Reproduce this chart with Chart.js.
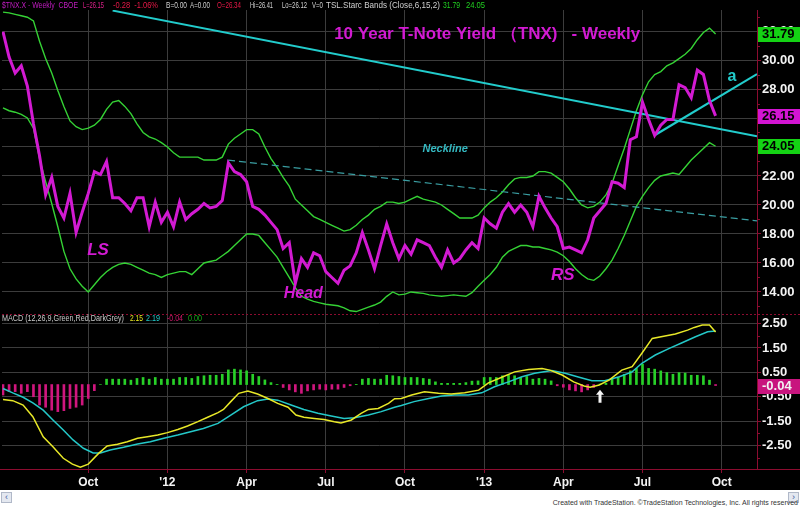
<!DOCTYPE html>
<html>
<head>
<meta charset="utf-8">
<title>10 Year T-Note Yield (TNX) - Weekly</title>
<script src="https://cdn.jsdelivr.net/npm/chart.js@4.4.1/dist/chart.umd.min.js"></script>
<style>
  html, body { margin:0; padding:0; background:#fff; }
  #box { width:800px; height:490px; background:#000; }
  #foot { position:relative; width:800px; height:21px; background:#fff; font-family:Arial, "Liberation Sans", sans-serif; }
  .arr { position:absolute; top:2px; width:9px; height:9px; font-size:9px; line-height:9px; text-align:center; color:#4060a0; background:#e4e8f0; border:1px solid #b0b8c8; }
  #credit { position:absolute; right:2px; top:9px; font-size:7px; color:#333; white-space:nowrap; }
</style>
</head>
<body>
<div id="box"><canvas id="chart" width="800" height="490"></canvas></div>
<div id="foot">
  <span class="arr" style="left:1px">&#8249;</span>
  <span class="arr" style="right:1px">&#8250;</span>
  <span id="credit">Created with TradeStation. ©TradeStation Technologies, Inc. All rights reserved</span>
</div>
<script>
/* DATA - weekly closes, week 0 = first bar of Jul 2011 */
const priceYield = [
  31.95, 30.2, 29.1, 29.6, 28.2, 25.6, 23.4, 20.7, 21.9, 19.9,
  19.1, 20.8, 18.1, 19.5, 20.8, 22.3, 22.1, 23.0, 20.5, 20.5,
  20.1, 19.6, 20.5, 20.5, 18.5, 20.2, 18.8, 19.5, 18.5, 20.2,
  19.0, 19.4, 19.7, 20.1, 19.8, 19.9, 20.3, 22.9, 22.3, 22.1,
  21.6, 19.9, 19.7, 19.3, 18.8, 18.3, 17.0, 17.4, 14.6, 16.3,
  15.7, 16.7, 16.5, 15.4, 15.0, 14.6, 15.5, 15.8, 16.7, 18.1,
  16.9, 15.6, 17.2, 18.7, 17.4, 16.3, 17.2, 16.6, 17.6, 17.4,
  17.2, 16.4, 15.7, 16.9, 16.0, 16.3, 16.9, 17.4, 17.0, 19.1,
  18.7, 18.4, 19.5, 20.1, 19.5, 20.0, 19.5, 18.5, 20.6, 19.8,
  19.1, 18.5, 17.0, 17.1, 16.9, 16.7, 17.6, 19.1, 19.6, 20.1,
  21.6, 21.5, 21.2, 24.5, 24.7, 27.1, 25.9, 24.8, 25.5, 25.9,
  25.9, 28.3, 28.1, 27.4, 29.3, 29.0, 27.2, 26.15
];

const upperBand = [
  33.3, 33.25, 33.15, 33.05, 32.95, 32.7, 31.3, 30.1, 29.1, 27.9,
  26.8, 25.8, 25.4, 25.2, 25.3, 25.5, 25.9, 26.6, 27.1, 27.2,
  26.8, 26.3, 25.6, 25.0, 24.7, 24.55, 24.3, 24.0, 23.6, 23.3,
  23.3, 23.3, 23.3, 23.1, 23.1, 23.1, 23.3, 24.2, 24.6, 24.9,
  25.2, 25.2, 24.9, 24.0, 23.2, 22.6, 21.9, 21.3, 20.4, 20.0,
  19.6, 19.2, 19.0, 18.8, 18.6, 18.4, 18.2, 18.3, 18.6, 19.0,
  19.3, 19.7, 19.9, 20.2, 20.2, 20.1, 20.2, 20.4, 20.6, 20.4,
  20.3, 20.2, 20.0, 19.7, 19.4, 19.1, 19.1, 19.1, 19.3, 19.8,
  20.2, 20.5, 20.9, 21.4, 21.8, 21.9, 21.9, 22.0, 22.3, 22.3,
  22.2, 21.9, 21.6, 21.1, 20.5, 20.0, 19.8, 19.9, 20.2, 20.7,
  21.5, 22.7, 23.9, 25.2, 26.5, 27.6, 28.5, 29.0, 29.2, 29.6,
  29.8, 30.1, 30.4, 30.8, 31.4, 31.9, 32.2, 31.79
];

const lowerBand = [
  26.7, 26.5, 26.4, 26.25, 26.0, 25.3, 23.2, 21.6, 20.1, 18.5,
  16.8, 15.6, 14.9, 14.4, 14.0, 14.5, 15.0, 15.4, 15.7, 15.9,
  16.0, 15.9, 15.7, 15.5, 15.3, 15.2, 15.0, 15.2, 15.3, 15.4,
  15.4, 15.2, 15.6, 16.0, 16.1, 16.2, 16.5, 16.8, 17.2, 17.6,
  18.0, 18.0, 17.9, 17.4, 16.9, 16.4, 15.7, 15.0, 14.3, 13.7,
  13.5, 13.35, 13.25, 13.15, 13.1, 13.05, 12.9, 12.7, 12.65, 12.8,
  12.95, 13.1, 13.3, 13.7, 14.0, 13.8, 13.85, 14.0, 13.95, 13.9,
  13.8, 13.75, 13.7, 13.75, 13.8, 13.75, 13.7, 13.95, 14.4, 14.8,
  15.2, 15.7, 16.4, 16.8, 17.0, 17.2, 17.2, 17.1, 17.1, 17.0,
  16.9, 16.75, 16.5, 16.1, 15.6, 15.2, 14.9, 14.8, 15.1, 15.6,
  16.2, 17.0, 17.9, 18.9, 19.9, 20.6, 21.2, 21.7, 22.0, 22.1,
  22.2, 22.1, 22.6, 23.1, 23.5, 23.9, 24.3, 24.05
];

/* MACD (12,26,9) */
const macdWeeks = [0, 1.6, 3.3, 4.9, 6.6, 8.2, 9.9, 11.4, 12.7, 14.0, 15.7, 17.1, 18.8, 20.4, 22.1,
  23.7, 25.4, 27.0, 28.7, 30.3, 32.0, 33.6, 35.3, 36.2, 37.4, 38.7, 40.2, 41.8, 43.5, 45.1,
  46.8, 48.1, 49.4, 51.1, 52.7, 54.4, 55.5, 57.2, 58.8, 60.0, 61.6, 63.3, 64.3, 65.4, 67.1,
  69.2, 71.5, 73.6, 75.8, 78.1, 79.7, 81.9, 84.0, 86.3, 88.5, 89.8, 91.8, 93.7, 95.4, 96.4,
  97.9, 99.5, 101.6, 103.3, 104.9, 106.6, 108.7, 110.4, 112.4, 113.5, 114.8, 116.0, 117];
const macdLine = [-0.61, -0.66, -0.84, -1.32, -2.14, -2.55, -3.02, -3.26, -3.39, -3.26, -2.82, -2.52, -2.45, -2.34, -2.20,
  -2.14, -2.07, -1.97, -1.84, -1.70, -1.52, -1.34, -1.15, -1.02, -0.70, -0.36, -0.27, -0.39, -0.57, -0.77,
  -0.93, -1.25, -1.34, -1.39, -1.43, -1.52, -1.57, -1.45, -1.18, -1.02, -0.98, -0.77, -0.58, -0.57, -0.43,
  -0.30, -0.36, -0.39, -0.34, -0.23, 0.07, 0.30, 0.52, 0.62, 0.66, 0.59, 0.39, 0.11, -0.06, -0.11,
  -0.02, 0.18, 0.59, 0.73, 1.28, 1.89, 1.99, 2.07, 2.23, 2.34, 2.44, 2.44, 2.15];

const signalWeeks = [0, 1.6, 3.3, 4.9, 6.6, 8.2, 9.9, 11.5, 13.2, 14.8, 16.0, 17.6, 19.8, 22.1, 24.2,
  26.4, 28.7, 30.8, 32.9, 35.3, 37.4, 39.5, 41.8, 43.5, 45.1, 47.3, 49.4, 51.7, 53.9, 56.0,
  57.7, 60.0, 62.1, 64.3, 65.4, 67.5, 69.9, 72.0, 74.1, 76.4, 78.6, 80.7, 83.0, 85.2, 87.3,
  90.1, 92.3, 94.6, 96.7, 98.8, 101.2, 103.3, 104.9, 107.1, 109.4, 111.5, 113.7, 115.7, 117];
const signalLine = [-0.16, -0.34, -0.52, -0.75, -1.05, -1.45, -1.86, -2.27, -2.61, -2.80, -2.80, -2.68, -2.57, -2.44, -2.34,
  -2.20, -2.07, -1.93, -1.80, -1.59, -1.25, -0.91, -0.66, -0.59, -0.64, -0.84, -1.02, -1.18, -1.29, -1.39,
  -1.36, -1.25, -1.11, -0.93, -0.86, -0.70, -0.57, -0.47, -0.43, -0.43, -0.34, -0.09, 0.11, 0.32, 0.46,
  0.57, 0.46, 0.30, 0.16, 0.16, 0.32, 0.52, 0.87, 1.21, 1.48, 1.71, 1.96, 2.16, 2.19];

const histogram = [
  -0.43, -0.29, -0.29, -0.36, -0.29, -0.50, -0.84, -0.93, -1.05, -1.11,
  -1.07, -0.98, -0.93, -0.84, -0.57, -0.25, 0.00, 0.22, 0.22, 0.22,
  0.22, 0.18, 0.25, 0.29, 0.22, 0.29, 0.22, 0.22, 0.22, 0.29,
  0.29, 0.25, 0.33, 0.36, 0.38, 0.38, 0.42, 0.60, 0.63, 0.60,
  0.56, 0.42, 0.33, 0.19, 0.08, 0.01, -0.12, -0.22, -0.30, -0.36,
  -0.26, -0.22, -0.19, -0.22, -0.19, -0.19, -0.12, -0.05, 0.01, 0.22,
  0.25, 0.22, 0.22, 0.38, 0.36, 0.33, 0.29, 0.29, 0.29, 0.25,
  0.22, 0.11, 0.05, 0.05, 0.05, 0.05, 0.08, 0.14, 0.15, 0.29,
  0.29, 0.29, 0.36, 0.38, 0.36, 0.29, 0.33, 0.22, 0.25, 0.22,
  0.15, -0.05, -0.11, -0.22, -0.26, -0.30, -0.22, -0.12, 0.02, 0.05,
  0.22, 0.29, 0.42, 0.56, 0.66, 0.83, 0.66, 0.63, 0.56, 0.49,
  0.42, 0.49, 0.47, 0.38, 0.38, 0.36, 0.18, -0.04
];

/* hand drawn lines (week, yield) */
const resistWeeks = [18, 123.8];
const resistLine = [33.41, 24.74];
const neckWeeks = [36.95, 123.8];
const neckLine = [23.1, 18.9];
const aWeeks = [107.06, 123.8];
const aLine = [24.83, 29.03];

const xTickWeeks = [14, 27, 40, 53, 66, 79, 92, 105, 118];
const xTickLabels = ["Oct", "'12", "Apr", "Jul", "Oct", "'13", "Apr", "Jul", "Oct"];
const priceTicks = [14, 16, 18, 20, 22, 24, 26, 28, 30, 32];
const macdTicks = [2.5, 1.5, 0.5, -0.5, -1.5, -2.5];

const lastUpper = 31.79, lastClose = 26.15, lastLower = 24.05, lastHist = -0.04;

/* COLORS */
const MAGENTA = "#d21ad2";
const GREEN = "#35d235";
const CYAN = "#22cccc";
const AXIS_RED = "#8c0c30";
const GRID = "#3c3c3c";
const FONT = 'Arial, "Liberation Sans", sans-serif';

const pts = (xs, ys) => ys.map((y, k) => ({ x: xs[k], y: y }));
const weeks = priceYield.map((_, i) => i);

Chart.defaults.font.family = FONT;

/* DECORATION: header, title, notes, value flags */
const decor = {
  id: "decor",
  beforeDraw(chart) {
    const c = chart.ctx;
    c.save();
    c.fillStyle = "#000";
    c.fillRect(0, 0, chart.width, chart.height);
    c.restore();
  },
  afterDraw(chart) {
    const c = chart.ctx, x = chart.scales.x, yP = chart.scales.yP, yM = chart.scales.yM;
    const area = chart.chartArea;
    c.save();

    function txt(s, px, py, color, font, maxW, align) {
      c.font = font;
      c.fillStyle = color;
      c.textAlign = align || "left";
      c.textBaseline = "middle";
      if (maxW) c.fillText(s, px, py, maxW); else c.fillText(s, px, py);
    }

    // minor ticks on right axis
    c.strokeStyle = AXIS_RED;
    c.lineWidth = 1;
    for (let v = 13; v <= 33; v += 2) {
      const py = Math.round(yP.getPixelForValue(v)) + 0.5;
      c.beginPath(); c.moveTo(area.right, py); c.lineTo(area.right + 3, py); c.stroke();
    }
    for (let v = -3; v <= 2; v++) {
      const py = Math.round(yM.getPixelForValue(v)) + 0.5;
      c.beginPath(); c.moveTo(area.right, py); c.lineTo(area.right + 3, py); c.stroke();
    }

    // panel separator and bottom rule
    const sep = Math.round(yP.bottom) + 0.5;
    c.setLineDash([2, 2]);
    c.beginPath(); c.moveTo(area.left, sep); c.lineTo(chart.width, sep); c.stroke();
    c.setLineDash([]);
    const bot = Math.round(area.bottom) + 0.5;
    c.beginPath(); c.moveTo(0, bot); c.lineTo(chart.width, bot); c.stroke();

    // header line
    const hf = "9px " + FONT, hy = 6;
    txt("$TNX.X - Weekly  CBOE", 2, hy, "#c21cc2", hf, 76);
    txt("L=26.15", 83, hy, "#e0208c", hf, 21);
    txt("-0.28  -1.06%", 113, hy, "#e81848", hf, 45);
    txt("B=0.00", 166, hy, "#d0d0d0", hf, 21);
    txt("A=0.00", 190, hy, "#d0d0d0", hf, 20);
    txt("O=26.34", 217, hy, "#e81848", hf, 24);
    txt("Hi=26.41", 250, hy, "#d0d0d0", hf, 23);
    txt("Lo=26.12", 282, hy, "#d0d0d0", hf, 25);
    txt("V=0", 312, hy, "#d0d0d0", hf, 11);
    txt("TSL.Starc Bands (Close,6,15,2)", 326, hy, "#d0d0d0", hf, 114);
    txt("31.79", 443, hy, "#20d020", hf, 17);
    txt("24.05", 466, hy, "#20d020", hf, 19);

    // MACD header
    const my = Math.round(yM.top) + 5;
    txt("MACD (12,26,9,Green,Red,DarkGrey)", 2, my, "#c8c8c8", hf, 122);
    txt("2.15", 130, my, "#e8e820", hf, 13);
    txt("2.19", 146, my, "#22cccc", hf, 14);
    txt("-0.04", 167, my, "#d0186c", hf, 16);
    txt("0.00", 188, my, "#18a818", hf, 14);

    // title and pattern notes
    txt("10 Year T-Note Yield （TNX)   - Weekly", x.getPixelForValue(79.5), yP.getPixelForValue(31.8),
        MAGENTA, "bold 17px " + FONT, 308, "center");
    const note = "italic bold 17px " + FONT;
    txt("LS", x.getPixelForValue(15.6), yP.getPixelForValue(16.9), MAGENTA, note, 0, "center");
    txt("Head", x.getPixelForValue(49.3), yP.getPixelForValue(13.86), MAGENTA, "italic bold 16px " + FONT, 0, "center");
    txt("RS", x.getPixelForValue(91.9), yP.getPixelForValue(15.17), MAGENTA, note, 0, "center");
    txt("Neckline", x.getPixelForValue(72.6), yP.getPixelForValue(23.86), "#34b8c0", "italic bold 11px " + FONT, 0, "center");
    txt("a", x.getPixelForValue(119.7), yP.getPixelForValue(28.83), CYAN, "bold 16px " + FONT, 0, "center");

    // MACD crossover arrow
    const ax = Math.round(x.getPixelForValue(98)), ay = yM.getPixelForValue(-0.5);
    c.fillStyle = "#f4f4f4";
    c.beginPath();
    c.moveTo(ax, ay - 7); c.lineTo(ax + 4, ay - 2); c.lineTo(ax + 1.5, ay - 2);
    c.lineTo(ax + 1.5, ay + 6); c.lineTo(ax - 1.5, ay + 6); c.lineTo(ax - 1.5, ay - 2);
    c.lineTo(ax - 4, ay - 2); c.closePath(); c.fill();

    // value flags on the right axis
    function flag(scale, v, bg, fg) {
      const py = scale.getPixelForValue(v);
      c.fillStyle = bg;
      c.fillRect(area.right + 1, Math.round(py) - 7, chart.width - area.right - 1, 15);
      txt(v.toFixed(2), area.right + 5, py + 0.5, fg, "bold 13px " + FONT);
    }
    flag(yP, lastUpper, "#14d214", "#000");
    flag(yP, lastClose, "#d214d2", "#000");
    flag(yP, lastLower, "#14d214", "#000");
    flag(yM, lastHist, "#c8147e", "#f2f2f2");

    c.restore();
  }
};

const gridStyle = {
  color: GRID,
  borderDash: [1, 3],
  tickColor: AXIS_RED,
  tickBorderDash: [],
  tickLength: 4,
  offset: false
};

new Chart(document.getElementById("chart"), {
  type: "line",
  data: {
    datasets: [
      { label: "TNX", data: pts(weeks, priceYield), yAxisID: "yP", borderColor: MAGENTA, borderWidth: 3, order: 0 },
      { label: "Upper", data: pts(weeks, upperBand), yAxisID: "yP", borderColor: GREEN, borderWidth: 1.4, order: 2 },
      { label: "Lower", data: pts(weeks, lowerBand), yAxisID: "yP", borderColor: GREEN, borderWidth: 1.4, order: 2 },
      { label: "Resistance", data: pts(resistWeeks, resistLine), yAxisID: "yP", borderColor: CYAN, borderWidth: 2, order: 1 },
      { label: "Neckline", data: pts(neckWeeks, neckLine), yAxisID: "yP", borderColor: "#3a9ea2", borderWidth: 1.2, borderDash: [7, 4], order: 1 },
      { label: "a", data: pts(aWeeks, aLine), yAxisID: "yP", borderColor: CYAN, borderWidth: 2.2, order: 1 },
      { label: "MACD", data: pts(macdWeeks, macdLine), yAxisID: "yM", borderColor: "#e8e828", borderWidth: 1.5, order: 3 },
      { label: "Signal", data: pts(signalWeeks, signalLine), yAxisID: "yM", borderColor: "#24c8c8", borderWidth: 1.5, order: 3 },
      { type: "bar", label: "Hist", data: pts(weeks, histogram), yAxisID: "yM",
        backgroundColor: histogram.map(v => v >= 0 ? "#28d028" : "#d0167e"),
        barThickness: 2, order: 5 }
    ]
  },
  options: {
    responsive: false,
    animation: false,
    events: [],
    layout: { padding: { top: 10, left: 2, right: 0, bottom: 0 } },
    elements: { point: { radius: 0 }, line: { tension: 0 } },
    plugins: { legend: { display: false }, tooltip: { enabled: false } },
    scales: {
      x: {
        type: "linear",
        offset: false,
        min: -0.164, max: 123.8,
        border: { color: AXIS_RED },
        grid: gridStyle,
        afterBuildTicks: s => { s.ticks = xTickWeeks.map(v => ({ value: v })); },
        afterFit: s => { s.height = 21; },
        ticks: {
          autoSkip: false, maxRotation: 0, padding: 2,
          color: "#f4f4f4", font: { size: 12, weight: "bold" },
          callback: v => xTickLabels[xTickWeeks.indexOf(v)]
        }
      },
      yP: {
        type: "linear", position: "right", stack: "panels", stackWeight: 304,
        min: 12.48, max: 33.45,
        border: { color: AXIS_RED },
        grid: gridStyle,
        afterBuildTicks: s => { s.ticks = priceTicks.map(v => ({ value: v })); },
        afterFit: s => { s.width = 43; },
        ticks: { autoSkip: false, padding: 1, color: "#f4f4f4", font: { size: 13, weight: "bold" }, callback: v => v.toFixed(2) }
      },
      yM: {
        type: "linear", position: "right", stack: "panels", stackWeight: 155,
        min: -3.46, max: 2.89,
        border: { color: AXIS_RED },
        grid: gridStyle,
        afterBuildTicks: s => { s.ticks = macdTicks.map(v => ({ value: v })); },
        afterFit: s => { s.width = 43; },
        ticks: { autoSkip: false, padding: 1, color: "#f4f4f4", font: { size: 13, weight: "bold" }, callback: v => v.toFixed(2) }
      }
    }
  },
  plugins: [decor]
});
</script>
</body>
</html>
